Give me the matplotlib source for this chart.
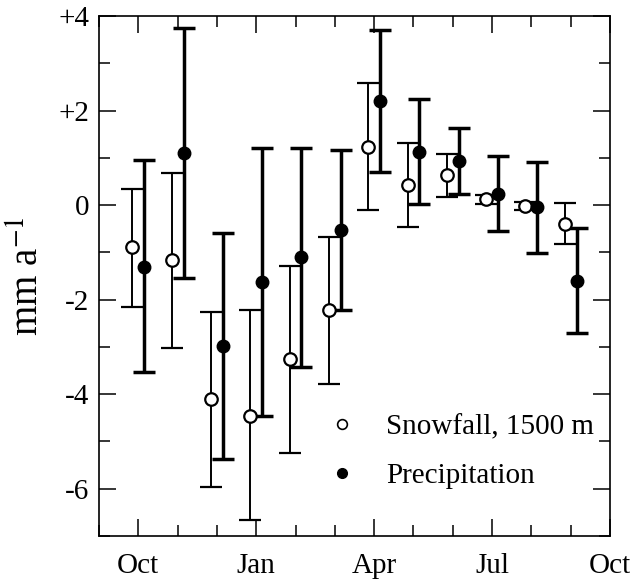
import matplotlib.pyplot as plt
import numpy as np
from matplotlib.lines import Line2D
from matplotlib.ticker import MultipleLocator

plt.rcParams['font.family'] = ['Liberation Serif', 'DejaVu Serif']
plt.rcParams['mathtext.fontset'] = 'stix'

# meses Oct..Sep, anomalias en mm/a
meses = ['Oct', 'Nov', 'Dec', 'Jan', 'Feb', 'Mar', 'Apr', 'May', 'Jun', 'Jul', 'Aug', 'Sep']

nieve = [-0.89, -1.16, -4.10, -4.46, -3.26, -2.22, 1.23, 0.42, 0.63, 0.12, -0.01, -0.39]
nieve_sup = [0.34, 0.68, -2.26, -2.22, -1.29, -0.67, 2.58, 1.31, 1.08, 0.21, 0.07, 0.04]
nieve_inf = [-2.16, -3.02, -5.96, -6.66, -5.24, -3.78, -0.11, -0.46, 0.17, 0.02, -0.10, -0.83]

prec = [-1.31, 1.10, -2.99, -1.62, -1.10, -0.53, 2.20, 1.12, 0.93, 0.23, -0.03, -1.61]
prec_sup = [0.95, 3.74, -0.59, 1.21, 1.21, 1.16, 3.70, 2.24, 1.64, 1.03, 0.92, -0.49]
prec_inf = [-3.53, -1.54, -5.37, -4.46, -3.43, -2.22, 0.70, 0.02, 0.23, -0.55, -1.01, -2.71]

x = np.arange(len(meses))
nieve = np.array(nieve)
prec = np.array(prec)
err_n = [nieve - np.array(nieve_inf), np.array(nieve_sup) - nieve]
err_p = [prec - np.array(prec_inf), np.array(prec_sup) - prec]

fig = plt.figure(figsize=(6.37, 5.84), dpi=100)
ax = fig.add_axes([0.1554, 0.0822, 0.8022, 0.8904])

ax.errorbar(x - 0.15, nieve, yerr=err_n, fmt='o', color='black', mfc='white',
            mec='black', mew=1.6, ms=9, elinewidth=1.4, capsize=8, capthick=1.6)
ax.errorbar(x + 0.15, prec, yerr=err_p, fmt='o', color='black', ms=9,
            elinewidth=2.5, capsize=8, capthick=2.5)

ax.set_xlim(-1, 12)
ax.set_ylim(-7, 4)
ax.set_xticks([0, 3, 6, 9, 12])
ax.set_xticklabels(['Oct', 'Jan', 'Apr', 'Jul', 'Oct'])
ax.xaxis.set_minor_locator(MultipleLocator(1))
ax.set_yticks([-6, -4, -2, 0, 2, 4])
ax.set_yticklabels(['-6', '-4', '-2', '0', '+2', '+4'])
ax.yaxis.set_minor_locator(MultipleLocator(1))

ax.tick_params(which='both', direction='in', top=True, right=True, width=1.1)
ax.tick_params(which='major', length=12, labelsize=21)
ax.tick_params(which='minor', length=8)
ax.tick_params(axis='x', which='major', pad=12)
ax.tick_params(axis='y', which='major', pad=7)
for s in ax.spines.values():
    s.set_linewidth(1.2)

ax.set_ylabel(r'mm a$^{-1}$', fontsize=28, labelpad=8)

h = [Line2D([], [], ls='none', marker='o', mfc='white', mec='black', mew=1.2, ms=7),
     Line2D([], [], ls='none', marker='o', color='black', ms=7)]
ax.legend(h, ['Snowfall, 1500 m', 'Precipitation'], loc='lower right',
          bbox_to_anchor=(1.02, 0.04), frameon=False, fontsize=21,
          handletextpad=1.0, labelspacing=0.75, handlelength=1.0)

fig.savefig('out.png', dpi=100)
